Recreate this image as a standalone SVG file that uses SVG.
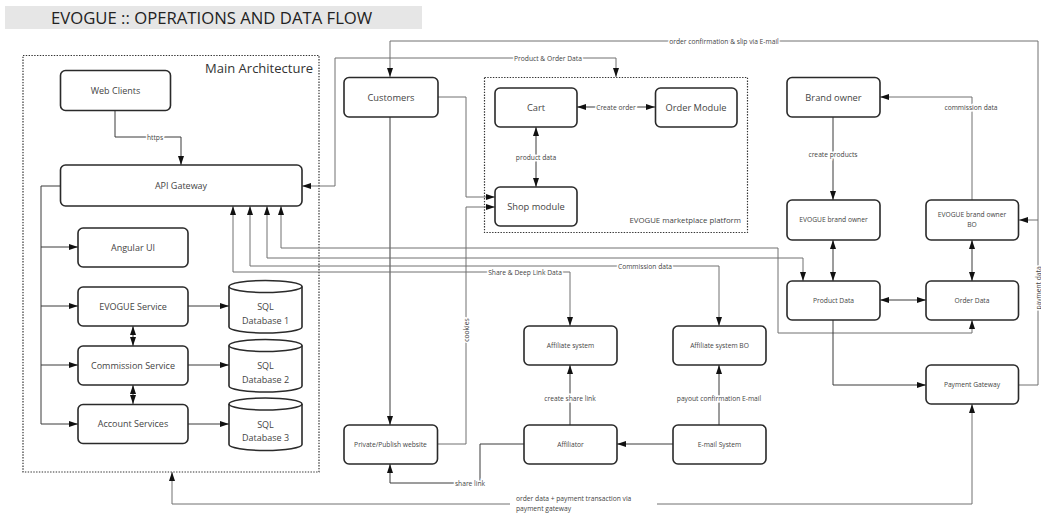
<svg xmlns="http://www.w3.org/2000/svg" width="1041" height="513" viewBox="0 0 1041 513">
  <style>
    .box { fill: #fff; stroke: #2a2a2a; stroke-width: 1.6; }
    .frame { fill: none; stroke: #333; stroke-width: 1.2; stroke-dasharray: 1.4 1.4; }
    .c { fill: none; stroke: #3a3a3a; stroke-width: 1; }
    .g { fill: none; stroke: #707070; stroke-width: 1; }
    .t { font-family: "Open Sans", "Liberation Sans", sans-serif; fill: #444; text-anchor: middle; dominant-baseline: central; }
    .l { font-family: "Open Sans", "Liberation Sans", sans-serif; fill: #444; font-size: 6.7px; text-anchor: middle; dominant-baseline: central; stroke: #fff; stroke-width: 3; paint-order: stroke; }
    .s7 { font-size: 6.7px; }
    .s9 { font-size: 9px; }
    .s92 { font-size: 9.3px; }
  </style>
  <defs>
    <marker id="arr" markerUnits="userSpaceOnUse" markerWidth="10" markerHeight="7" refX="9" refY="3" orient="auto-start-reverse">
      <path d="M0,0 L9,3 L0,6 z" fill="#111"/>
    </marker>
  </defs>

  <!-- title banner -->
  <g id="title">
    <rect x="5" y="6" width="417" height="23" fill="#e6e6e6"/>
    <text x="51" y="17.5" style="font-family:'Open Sans','Liberation Sans',sans-serif;font-size:16.7px;fill:#222;dominant-baseline:central">EVOGUE :: OPERATIONS AND DATA FLOW</text>
  </g>

  <!-- group frames -->
  <g id="main-architecture">
    <rect class="frame" x="23" y="55.5" width="296" height="416.5"/>
    <text x="313" y="68" style="font-family:'Open Sans','Liberation Sans',sans-serif;font-size:13px;fill:#333;text-anchor:end;dominant-baseline:central">Main Architecture</text>
  </g>
  <g id="marketplace-platform">
    <rect class="frame" x="484.5" y="77.5" width="263" height="155"/>
    <text x="741" y="220" style="font-family:'Open Sans','Liberation Sans',sans-serif;font-size:7.8px;fill:#444;text-anchor:end;dominant-baseline:central">EVOGUE marketplace platform</text>
  </g>

  <!-- connectors -->
  <g id="connectors">
    <path class="c" d="M115,110 V137 H181 V165" marker-end="url(#arr)"/>
    <path class="c" d="M60,186 H41 V424 H78" marker-end="url(#arr)"/>
    <path class="c" d="M41,247 H78" marker-end="url(#arr)"/>
    <path class="c" d="M41,306 H78" marker-end="url(#arr)"/>
    <path class="c" d="M41,365 H78" marker-end="url(#arr)"/>
    <path class="c" d="M133,326 V346" marker-start="url(#arr)" marker-end="url(#arr)"/>
    <path class="c" d="M133,385 V404" marker-start="url(#arr)" marker-end="url(#arr)"/>
    <path class="c" d="M188,306 H229" marker-end="url(#arr)"/>
    <path class="c" d="M188,365 H229" marker-end="url(#arr)"/>
    <path class="c" d="M188,424 H229" marker-end="url(#arr)"/>

    <path class="g" d="M302,186 H335 V58 H616 V77" marker-start="url(#arr)" marker-end="url(#arr)"/>
    <path class="g" d="M1019,385 H1038 V41 H390 V77" marker-end="url(#arr)"/>
    <path class="g" d="M1038,220 H1019" marker-end="url(#arr)"/>

    <path class="g" d="M438,97 H466 V197 H495" marker-end="url(#arr)"/>
    <path class="c" d="M390,117 V425" marker-end="url(#arr)"/>
    <path class="g" d="M437,444 H466 V207 H495" marker-end="url(#arr)"/>

    <path class="c" d="M577,107 H655" marker-start="url(#arr)" marker-end="url(#arr)"/>
    <path class="c" d="M536,127 V187" marker-start="url(#arr)" marker-end="url(#arr)"/>

    <path class="g" d="M233,206 V272 H570 V326" marker-start="url(#arr)" marker-end="url(#arr)"/>
    <path class="g" d="M250,206 V266 H719 V326" marker-start="url(#arr)" marker-end="url(#arr)"/>
    <path class="g" d="M267,206 V258 H803 V281" marker-start="url(#arr)" marker-end="url(#arr)"/>
    <path class="g" d="M281,206 V248 H778 V333 H972 V320" marker-start="url(#arr)" marker-end="url(#arr)"/>

    <path class="c" d="M833,117 V200" marker-end="url(#arr)"/>
    <path class="g" d="M972,200 V97 H880" marker-end="url(#arr)"/>
    <path class="c" d="M833,240 V281" marker-start="url(#arr)" marker-end="url(#arr)"/>
    <path class="c" d="M972,240 V281" marker-start="url(#arr)" marker-end="url(#arr)"/>
    <path class="c" d="M880,300 H926" marker-start="url(#arr)" marker-end="url(#arr)"/>
    <path class="c" d="M833,320 V385 H926" marker-end="url(#arr)"/>

    <path class="g" d="M510,504 H172 V472" marker-end="url(#arr)"/>
    <path class="g" d="M657,504 H972 V404" marker-end="url(#arr)"/>

    <path class="c" d="M673,444 H617" marker-end="url(#arr)"/>
    <path class="c" d="M719,425 V365" marker-end="url(#arr)"/>
    <path class="c" d="M570,425 V365" marker-end="url(#arr)"/>
    <path class="c" d="M524,444 H480 V483 H390 V464" marker-end="url(#arr)"/>

    <!-- connector labels -->
    <text class="l" x="155" y="137">https</text>
    <text class="l" x="548" y="58">Product &amp; Order Data</text>
    <text class="l" x="724" y="41">order confirmation &amp; slip via E-mail</text>
    <text class="l" x="616" y="107">Create order</text>
    <text class="l" x="536" y="157">product data</text>
    <text class="l" x="971" y="107">commission data</text>
    <text class="l" x="833" y="154">create products</text>
    <text class="l" x="525" y="272">Share &amp; Deep Link Data</text>
    <text class="l" x="645" y="266">Commission data</text>
    <text class="l" transform="translate(466,330) rotate(-90)" x="0" y="0">cookies</text>
    <text class="l" transform="translate(1038,288) rotate(-90)" x="0" y="0">payment data</text>
    <text class="l" x="570" y="398">create share link</text>
    <text class="l" x="719" y="398">payout confirmation E-mail</text>
    <text class="l" x="470" y="483">share link</text>
    <text class="l" x="516" y="498.5" style="text-anchor:start">order data + payment transaction via</text>
    <text class="l" x="516" y="508" style="text-anchor:start">payment gateway</text>
  </g>

  <!-- main architecture nodes -->
  <g id="web-clients"><rect class="box" x="60.5" y="70.5" width="110" height="40" rx="5"/><text class="t s9" x="115.5" y="90.5">Web Clients</text></g>
  <g id="api-gateway"><rect class="box" x="60.5" y="165" width="241.5" height="41" rx="5"/><text class="t s9" x="181" y="185.5">API Gateway</text></g>
  <g id="angular-ui"><rect class="box" x="78" y="228" width="110" height="39" rx="5"/><text class="t s9" x="133" y="247.5">Angular UI</text></g>
  <g id="evogue-service"><rect class="box" x="78" y="287" width="110" height="39" rx="5"/><text class="t s9" x="133" y="306">EVOGUE Service</text></g>
  <g id="commission-service"><rect class="box" x="78" y="346" width="110" height="39" rx="5"/><text class="t s9" x="133" y="365">Commission Service</text></g>
  <g id="account-services"><rect class="box" x="78" y="404.5" width="110" height="39" rx="5"/><text class="t s9" x="133" y="423.5">Account Services</text></g>

  <g id="sql-db-1">
    <path class="box" d="M229,286.5 a36.5,6 0 0,1 73,0 v40.5 a36.5,6 0 0,1 -73,0 z"/>
    <path class="box" style="fill:none" d="M229,286.5 a36.5,6 0 0,0 73,0"/>
    <text class="t s9" x="265.5" y="306.5">SQL</text><text class="t s9" x="265.5" y="320">Database 1</text>
  </g>
  <g id="sql-db-2">
    <path class="box" d="M229,345.5 a36.5,6 0 0,1 73,0 v40.5 a36.5,6 0 0,1 -73,0 z"/>
    <path class="box" style="fill:none" d="M229,345.5 a36.5,6 0 0,0 73,0"/>
    <text class="t s9" x="265.5" y="365.5">SQL</text><text class="t s9" x="265.5" y="379">Database 2</text>
  </g>
  <g id="sql-db-3">
    <path class="box" d="M229,404 a36.5,6 0 0,1 73,0 v40.5 a36.5,6 0 0,1 -73,0 z"/>
    <path class="box" style="fill:none" d="M229,404 a36.5,6 0 0,0 73,0"/>
    <text class="t s9" x="265.5" y="424">SQL</text><text class="t s9" x="265.5" y="437.5">Database 3</text>
  </g>

  <!-- customer side -->
  <g id="customers"><rect class="box" x="344" y="77.5" width="94" height="39.5" rx="5"/><text class="t s92" x="391" y="97">Customers</text></g>
  <g id="private-website"><rect class="box" x="344" y="425" width="93.5" height="39" rx="5"/><text class="t s7" x="390.5" y="444.5">Private/Publish website</text></g>

  <!-- marketplace -->
  <g id="cart"><rect class="box" x="495" y="88" width="82" height="39" rx="5"/><text class="t s92" x="536" y="107">Cart</text></g>
  <g id="order-module"><rect class="box" x="655.5" y="88" width="81.5" height="39" rx="5"/><text class="t s92" x="696" y="107">Order Module</text></g>
  <g id="shop-module"><rect class="box" x="495" y="187" width="82" height="39" rx="5"/><text class="t s92" x="536" y="206">Shop module</text></g>

  <!-- affiliate side -->
  <g id="affiliate-system"><rect class="box" x="524" y="326" width="93" height="39" rx="5"/><text class="t s7" x="570.5" y="345.5">Affiliate system</text></g>
  <g id="affiliate-system-bo"><rect class="box" x="673" y="326" width="93" height="39" rx="5"/><text class="t s7" x="719.5" y="345.5">Affiliate system BO</text></g>
  <g id="affiliator"><rect class="box" x="524" y="425" width="93" height="39" rx="5"/><text class="t s7" x="570.5" y="444.5">Affiliator</text></g>
  <g id="email-system"><rect class="box" x="673" y="425" width="93" height="39" rx="5"/><text class="t s7" x="719.5" y="444.5">E-mail System</text></g>

  <!-- brand owner side -->
  <g id="brand-owner"><rect class="box" x="787" y="77.5" width="93" height="39.5" rx="5"/><text class="t s92" x="833.5" y="97">Brand owner</text></g>
  <g id="evogue-brand-owner"><rect class="box" x="787" y="200" width="93" height="40" rx="5"/><text class="t s7" x="833.5" y="219.5">EVOGUE brand owner</text></g>
  <g id="evogue-brand-owner-bo"><rect class="box" x="926" y="200" width="92.5" height="40" rx="5"/><text class="t s7" x="972" y="214.5">EVOGUE brand owner</text><text class="t s7" x="972" y="224.5">BO</text></g>
  <g id="product-data"><rect class="box" x="787" y="281" width="93" height="39" rx="5"/><text class="t s7" x="833.5" y="300">Product Data</text></g>
  <g id="order-data"><rect class="box" x="926" y="281" width="92.5" height="39" rx="5"/><text class="t s7" x="972" y="300">Order Data</text></g>
  <g id="payment-gateway"><rect class="box" x="926" y="365" width="92.5" height="39" rx="5"/><text class="t s7" x="972" y="384.5">Payment Gateway</text></g>
</svg>
